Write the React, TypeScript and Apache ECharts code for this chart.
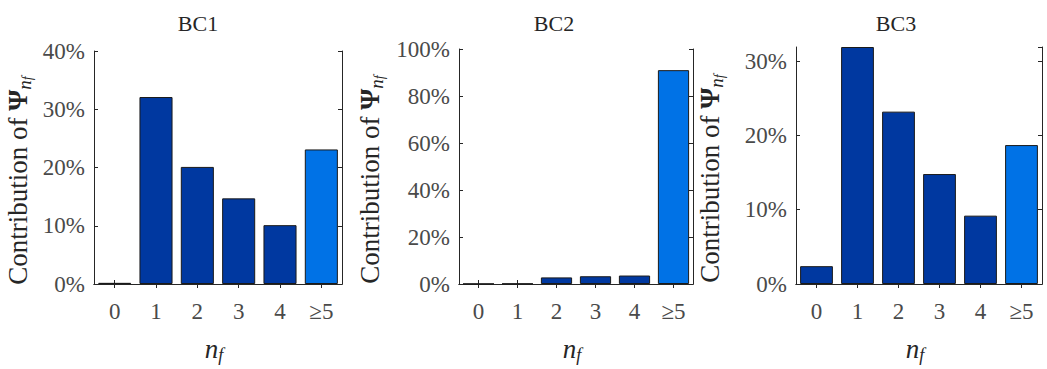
import React, { useEffect, useRef } from "react";
import * as echarts from "echarts";

const categories = ["0", "1", "2", "3", "4", "≥5"];
const panelTitles = ["BC1", "BC2", "BC3"];
const bc1Values = [0.2, 32.1, 20.1, 14.7, 10.1, 23.1];
const bc2Values = [0.1, 0.15, 2.8, 3.3, 3.6, 91.0];
const bc3Values = [2.4, 31.9, 23.2, 14.8, 9.2, 18.7];
const panelValues = [bc1Values, bc2Values, bc3Values];
const yMaxes = [40, 100, 31.9];
const yIntervals = [10, 20, 10];

const grids = [
  { left: 92, top: 51, width: 250, height: 248 },
  { left: 459, top: 49, width: 234, height: 249 },
  { left: 796, top: 47, width: 246, height: 248 },
];
const titleCenters = [193, 549, 891];
const yNameGaps = [60, 73, 70];

const FONT = "'Liberation Serif', 'Times New Roman', serif";
const DARK = "#0038A0";
const LIGHT = "#0072E6";
const INK = "#262626";
const TICKC = "#4a4a4a";

export default function App() {
  const ref = useRef<HTMLDivElement>(null);
  useEffect(() => {
    if (!ref.current) return;
    const chart = echarts.init(ref.current, null, { renderer: "svg" });
    const xAxes: any[] = [];
    const yAxes: any[] = [];
    const series: any[] = [];
    const titles: any[] = [];
    grids.forEach((g, i) => {
      titles.push({
        text: panelTitles[i],
        left: titleCenters[i],
        top: 7,
        textAlign: "center",
        textStyle: { fontFamily: FONT, fontSize: 22, fontWeight: "normal", color: INK },
      });
      xAxes.push({
        type: "category",
        gridIndex: i,
        data: categories,
        position: "bottom",
        axisLine: { show: true, lineStyle: { color: INK, width: 1 } },
        axisTick: { show: true, inside: true, alignWithLabel: true, length: 4, lineStyle: { color: INK } },
        axisLabel: { fontFamily: FONT, fontSize: 23, color: TICKC, margin: 16 },
        name: "{n|n}{f|f}",
        nameLocation: "middle",
        nameGap: 50,
        nameTextStyle: {
          padding: [0, 8, 0, 0],
          rich: {
            n: { fontFamily: FONT, fontSize: 27, fontStyle: "italic", color: INK, lineHeight: 30, verticalAlign: "middle" },
            f: { fontFamily: FONT, fontSize: 18, fontStyle: "italic", color: INK, lineHeight: 30, verticalAlign: "bottom", padding: [12, 0, 0, 0] },
          },
        },
      });
      xAxes.push({
        type: "category",
        gridIndex: i,
        data: categories,
        position: "top",
        axisLine: { show: true, lineStyle: { color: INK, width: 1 } },
        axisTick: { show: true, inside: true, alignWithLabel: true, length: 4, lineStyle: { color: INK } },
        axisLabel: { show: false },
      });
      yAxes.push({
        type: "value",
        gridIndex: i,
        min: 0,
        max: yMaxes[i],
        interval: yIntervals[i],
        position: "left",
        splitLine: { show: false },
        axisLine: { show: true, lineStyle: { color: INK, width: 1 } },
        axisTick: { show: true, inside: true, length: 4, lineStyle: { color: INK } },
        axisLabel: { fontFamily: FONT, fontSize: 23, color: TICKC, margin: 9, formatter: "{value}%", showMaxLabel: i !== 2 },
        name: "Contribution of {psi|Ψ}{n|n}{f|f}",
        nameLocation: "middle",
        nameRotate: 90,
        nameGap: yNameGaps[i],
        nameTextStyle: {
          fontFamily: FONT,
          fontSize: 27,
          color: INK,
          lineHeight: 33,
          padding: [0, 26, 0, 0],
          rich: {
            psi: { fontFamily: FONT, fontSize: 27, fontWeight: "bold", color: INK, lineHeight: 33 },
            n: { fontFamily: FONT, fontSize: 19, fontStyle: "italic", color: INK, lineHeight: 33, verticalAlign: "bottom", padding: [10, 0, 0, 0] },
            f: { fontFamily: FONT, fontSize: 14, fontStyle: "italic", color: INK, lineHeight: 33, verticalAlign: "bottom", padding: [14, 0, 0, 0] },
          },
        },
      });
      yAxes.push({
        type: "value",
        gridIndex: i,
        min: 0,
        max: yMaxes[i],
        interval: yIntervals[i],
        position: "right",
        splitLine: { show: false },
        axisLine: { show: true, lineStyle: { color: INK, width: 1 } },
        axisTick: { show: true, inside: true, length: 4, lineStyle: { color: INK } },
        axisLabel: { show: false },
      });
      series.push({
        type: "bar",
        xAxisIndex: i * 2,
        yAxisIndex: i * 2,
        barCategoryGap: "20%",
        data: panelValues[i].map((v, k) => ({
          value: v,
          itemStyle: { color: k === categories.length - 1 ? LIGHT : DARK },
        })),
        itemStyle: { borderColor: "#1a1a1a", borderWidth: 1 },
      });
    });
    chart.setOption({
      animation: false,
      backgroundColor: "#ffffff",
      title: titles,
      grid: grids.map((g) => ({ ...g, containLabel: false })),
      xAxis: xAxes,
      yAxis: yAxes,
      series,
    });
    return () => chart.dispose();
  }, []);
  return (
    <div
      ref={ref}
      style={{ position: "absolute", left: 0, top: 0, width: 1047, height: 369 }}
    />
  );
}
